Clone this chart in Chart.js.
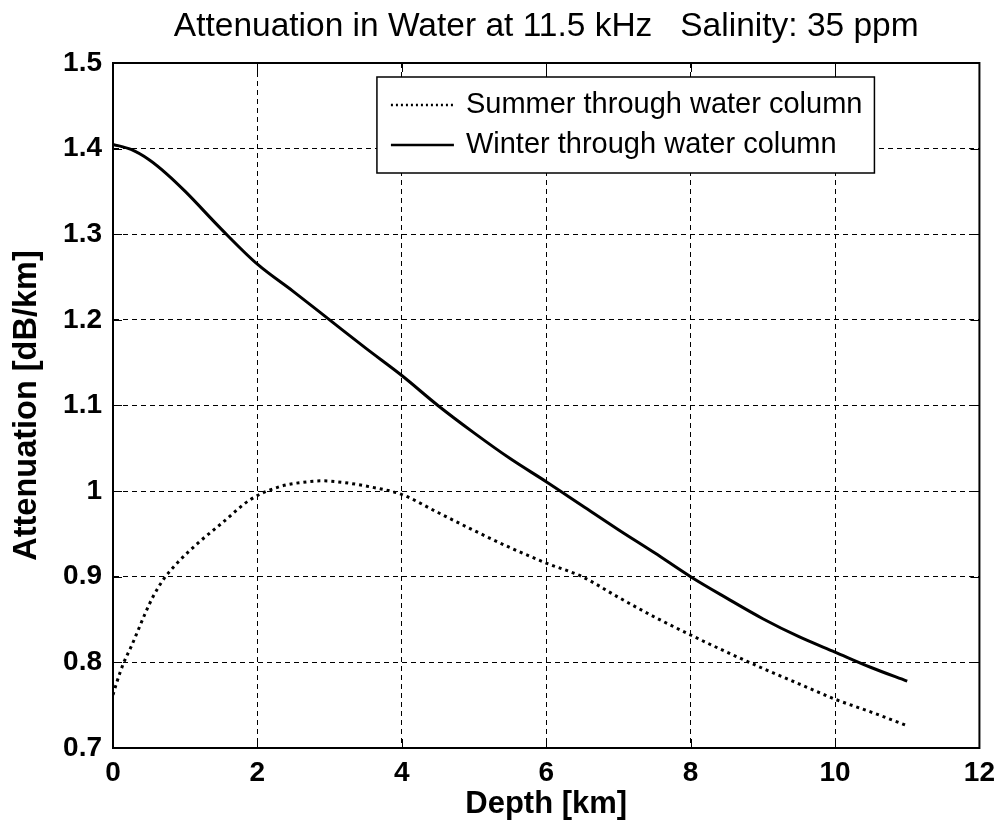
<!DOCTYPE html>
<html>
<head>
<meta charset="utf-8">
<script src="https://cdn.jsdelivr.net/npm/chart.js@4/dist/chart.umd.min.js"></script>
<style>
  html, body { margin: 0; padding: 0; background: #fff; }
  #wrap { width: 1003px; height: 828px; position: relative; }
</style>
</head>
<body>
<div id="wrap"><canvas id="c"></canvas></div>
<script>
// ---- data ----
const chartTitle = 'Attenuation in Water at 11.5 kHz   Salinity: 35 ppm';
const xAxisTitle = 'Depth [km]';
const yAxisTitle = 'Attenuation [dB/km]';
const seriesNames = ['Summer through water column', 'Winter through water column'];

const summerDepth = [0, 0.05, 0.15, 0.25, 0.35, 0.45, 0.55, 0.7, 0.9, 1.2, 1.5, 1.9, 2.3, 2.7, 2.9, 3.2, 3.5, 4, 4.5, 5, 5.5, 6, 6.5, 7, 7.5, 8, 8.5, 9, 9.5, 10, 10.5, 11];
const summerAtten = [0.762, 0.776, 0.800, 0.818, 0.838, 0.858, 0.876, 0.897, 0.917, 0.941, 0.962, 0.990, 1.005, 1.011, 1.012, 1.010, 1.006, 0.996, 0.975, 0.954, 0.934, 0.916, 0.900, 0.876, 0.853, 0.832, 0.812, 0.793, 0.775, 0.757, 0.742, 0.726];

const winterDepth = [0, 0.25, 0.5, 0.75, 1, 1.5, 2, 2.5, 3, 3.5, 4, 4.5, 5, 5.5, 6, 6.5, 7, 7.5, 8, 8.5, 9, 9.5, 10, 10.5, 11];
const winterAtten = [1.405, 1.399, 1.387, 1.370, 1.350, 1.306, 1.265, 1.233, 1.200, 1.167, 1.135, 1.100, 1.068, 1.038, 1.011, 0.983, 0.955, 0.928, 0.900, 0.875, 0.851, 0.830, 0.812, 0.794, 0.778];

const xTicks = [0, 2, 4, 6, 8, 10, 12];
const xTickLabels = ['0', '2', '4', '6', '8', '10', '12'];
const yTicks = [0.7, 0.8, 0.9, 1.0, 1.1, 1.2, 1.3, 1.4, 1.5];
const yTickLabels = ['0.7', '0.8', '0.9', '1', '1.1', '1.2', '1.3', '1.4', '1.5'];

// ---- helpers ----
const toPoints = (xs, ys) => xs.map((x, i) => ({ x: x, y: ys[i] }));
const FONT = "'Liberation Sans', Arial, sans-serif";

const whiteBg = {
  id: 'whiteBg',
  beforeDraw(chart) {
    const ctx = chart.ctx;
    ctx.save();
    ctx.fillStyle = '#fff';
    ctx.fillRect(0, 0, chart.width, chart.height);
    ctx.restore();
  }
};

// title centred over the axes (MATLAB style)
const axesTitle = {
  id: 'axesTitle',
  afterDraw(chart) {
    const { ctx, chartArea: a } = chart;
    ctx.save();
    ctx.font = '33.5px ' + FONT;
    ctx.fillStyle = '#000';
    ctx.textAlign = 'center';
    ctx.textBaseline = 'middle';
    ctx.fillText(chartTitle, (a.left + a.right) / 2, 27);
    ctx.restore();
  }
};

// box border + inward tick marks
const boxAndTicks = {
  id: 'boxAndTicks',
  afterDatasetsDraw(chart) {
    const { ctx, chartArea: a, scales } = chart;
    const len = 9;
    ctx.save();
    ctx.strokeStyle = '#000';
    ctx.lineWidth = 1;
    ctx.beginPath();
    scales.x.ticks.forEach(t => {
      const px = Math.round(scales.x.getPixelForValue(t.value)) + 0.5;
      ctx.moveTo(px, a.bottom); ctx.lineTo(px, a.bottom - len);
      ctx.moveTo(px, a.top); ctx.lineTo(px, a.top + len);
    });
    scales.y.ticks.forEach(t => {
      const py = Math.round(scales.y.getPixelForValue(t.value)) + 0.5;
      ctx.moveTo(a.left, py); ctx.lineTo(a.left + len, py);
      ctx.moveTo(a.right, py); ctx.lineTo(a.right - len, py);
    });
    ctx.stroke();
    ctx.lineWidth = 2;
    ctx.strokeRect(a.left, a.top, a.right - a.left, a.bottom - a.top);
    ctx.restore();
  }
};

// legend box drawn inside the plot area, top-right
const insideLegend = {
  id: 'insideLegend',
  afterDraw(chart) {
    const { ctx, chartArea: a } = chart;
    const fontSize = 29;
    ctx.save();
    ctx.font = fontSize + 'px ' + FONT;
    const textW = Math.max(...chart.data.datasets.map(d => ctx.measureText(d.label).width));
    const sampleLen = 63, gap = 12, padL = 14, padR = 12, rowH = 40, padT = 6;
    const boxW = padL + sampleLen + gap + textW + padR;
    const boxH = padT * 2 + rowH * chart.data.datasets.length + 4;
    const right = a.right - 105;
    const left = right - boxW;
    const top = a.top + 14;
    ctx.fillStyle = '#fff';
    ctx.fillRect(left, top, boxW, boxH);
    ctx.strokeStyle = '#000';
    ctx.lineWidth = 1.5;
    ctx.strokeRect(left, top, boxW, boxH);
    chart.data.datasets.forEach((d, i) => {
      const cy = top + padT + rowH * i + rowH / 2 + 2;
      ctx.beginPath();
      ctx.strokeStyle = d.borderColor;
      ctx.lineWidth = Math.min(d.borderWidth, 2.5);
      ctx.setLineDash(d.borderDash ? [2, 3] : []);
      ctx.moveTo(left + padL, cy);
      ctx.lineTo(left + padL + sampleLen, cy);
      ctx.stroke();
      ctx.setLineDash([]);
      ctx.fillStyle = '#000';
      ctx.textBaseline = 'middle';
      ctx.textAlign = 'left';
      ctx.fillText(d.label, left + padL + sampleLen + gap, cy);
    });
    ctx.restore();
  }
};

new Chart(document.getElementById('c'), {
  type: 'line',
  data: {
    datasets: [
      {
        label: seriesNames[0],
        data: toPoints(summerDepth, summerAtten),
        borderColor: '#000',
        borderWidth: 3,
        borderDash: [3, 4],
        borderCapStyle: 'butt',
        pointRadius: 0,
        fill: false,
        cubicInterpolationMode: 'monotone'
      },
      {
        label: seriesNames[1],
        data: toPoints(winterDepth, winterAtten),
        borderColor: '#000',
        borderWidth: 3,
        pointRadius: 0,
        fill: false,
        cubicInterpolationMode: 'monotone'
      }
    ]
  },
  options: {
    responsive: true,
    maintainAspectRatio: false,
    animation: false,
    layout: { padding: { left: 0, right: 23, top: 63, bottom: 0 } },
    plugins: {
      legend: { display: false },
      tooltip: { enabled: false },
      title: { display: false }
    },
    scales: {
      x: {
        type: 'linear',
        min: 0, max: 12,
        afterBuildTicks: s => { s.ticks = xTicks.map(v => ({ value: v })); },
        afterFit: s => { s.height = 80; },
        ticks: {
          color: '#000',
          padding: 8,
          maxRotation: 0,
          font: { family: FONT, size: 28, weight: 'bold' },
          callback: (v) => xTickLabels[xTicks.indexOf(v)]
        },
        grid: { color: '#000', lineWidth: 1, drawTicks: false },
        border: { display: true, color: '#000', width: 2, dash: [5, 4] },
        title: {
          display: true, text: xAxisTitle, color: '#000',
          font: { family: FONT, size: 31, weight: 'bold', lineHeight: 1.2 },
          padding: { top: 0, bottom: 5 }
        }
      },
      y: {
        type: 'linear',
        min: 0.7, max: 1.5,
        afterBuildTicks: s => { s.ticks = yTicks.map(v => ({ value: v })); },
        afterFit: s => { s.width = 113; },
        ticks: {
          color: '#000',
          padding: 11,
          font: { family: FONT, size: 28, weight: 'bold' },
          callback: (v) => yTickLabels[yTicks.findIndex(t => Math.abs(t - v) < 1e-9)]
        },
        grid: { color: '#000', lineWidth: 1, drawTicks: false },
        border: { display: true, color: '#000', width: 2, dash: [5, 4] },
        title: {
          display: true, text: yAxisTitle, color: '#000',
          font: { family: FONT, size: 32.5, weight: 'bold', lineHeight: 1.2 },
          padding: { top: 8, bottom: 0 }
        }
      }
    }
  },
  plugins: [whiteBg, axesTitle, boxAndTicks, insideLegend]
});
</script>
</body>
</html>
